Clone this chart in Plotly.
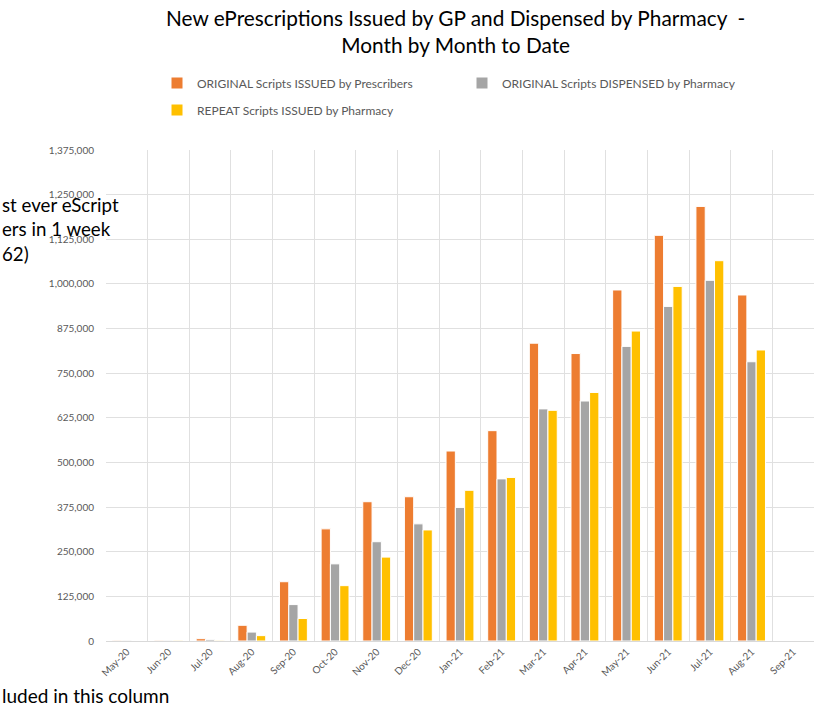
import plotly.graph_objects as go

months = ["May-20", "Jun-20", "Jul-20", "Aug-20", "Sep-20", "Oct-20", "Nov-20", "Dec-20",
          "Jan-21", "Feb-21", "Mar-21", "Apr-21", "May-21", "Jun-21", "Jul-21", "Aug-21", "Sep-21"]

original_issued = [2000, 2000, 6500, 44000, 166000, 314000, 390000, 404000,
                   532000, 589000, 834000, 805000, 983000, 1136000, 1217000, 969000, None]
original_dispensed = [2000, 2000, 4500, 25000, 102000, 216000, 278000, 328000,
                      374000, 454000, 650000, 672000, 825000, 937000, 1010000, 782000, None]
repeat_issued = [0, 2000, 2000, 15000, 63000, 155000, 235000, 311000,
                 422000, 458000, 646000, 696000, 868000, 993000, 1065000, 815000, None]

series_names = ["ORIGINAL Scripts ISSUED by Prescribers",
                "ORIGINAL Scripts DISPENSED by Pharmacy",
                "REPEAT Scripts ISSUED by Pharmacy"]
colors = ["#ED7D31", "#A5A5A5", "#FFC000"]

y_ticks = list(range(0, 1375001, 125000))
y_tick_labels = [f"{v:,}" for v in y_ticks]

title_text = "New ePrescriptions Issued by GP and Dispensed by Pharmacy  -<br>Month by Month to Date"
side_note = "st ever eScript<br>ers in 1 week<br>62)"
bottom_note = "luded in this column"

FONT = "Lato"

fig = go.Figure()
for name, vals, col, lg in zip(series_names,
                               [original_issued, original_dispensed, repeat_issued],
                               colors, ["legend", "legend", "legend2"]):
    fig.add_trace(go.Bar(x=months, y=vals, name=name, legend=lg,
                         marker=dict(color=col, line=dict(color="white", width=1))))

W, H = 816, 704
L, R, T, B = 106, 2, 150, 63
PW = W - L - R
PH = H - T - B

fig.update_layout(
    width=W, height=H,
    margin=dict(l=L, r=R, t=T, b=B),
    paper_bgcolor="white", plot_bgcolor="white",
    font=dict(family=FONT, color="#595959"),
    barmode="group", bargap=0.33, bargroupgap=0.0,
    legend=dict(orientation="h", x=(157 - L) / PW, xanchor="left",
                y=(641 - 83) / PH, yanchor="middle",
                entrywidth=260, entrywidthmode="pixels",
                font=dict(size=12, color="#595959"), bgcolor="rgba(0,0,0,0)"),
    legend2=dict(orientation="h", x=(157 - L) / PW, xanchor="left",
                 y=(641 - 110) / PH, yanchor="middle",
                 font=dict(size=12, color="#595959"), bgcolor="rgba(0,0,0,0)"),
    showlegend=True,
)

fig.update_xaxes(type="category", tickson="boundaries", showgrid=True, gridcolor="#E0E0E0",
                 gridwidth=1, ticks="", tickangle=-45, tickfont=dict(size=10, color="#595959"),
                 showline=True, linecolor="#D9D9D9", linewidth=1, automargin=False)
fig.update_yaxes(range=[0, 1375000], tickvals=y_ticks, ticktext=y_tick_labels,
                 showgrid=True, gridcolor="#E0E0E0", gridwidth=1, zeroline=False,
                 ticks="", ticklen=0, tickfont=dict(size=10, color="#595959"),
                 ticklabelstandoff=11, showline=False, automargin=False)

fig.add_annotation(text=title_text, xref="paper", yref="paper",
                   x=(455 - L) / PW, y=(641 - 3) / PH,
                   xanchor="center", yanchor="top", align="center", showarrow=False,
                   font=dict(size=20.8, color="#000000", family=FONT))
fig.add_annotation(text=side_note, xref="paper", yref="paper", x=-L / PW,
                   y=(641 - 192) / PH,
                   xanchor="left", yanchor="top", align="left", showarrow=False,
                   font=dict(size=18.7, color="#000000", family=FONT))
fig.add_annotation(text=bottom_note, xref="paper", yref="paper", x=-L / PW,
                   y=-(682 - 641) / PH,
                   xanchor="left", yanchor="top", align="left", showarrow=False,
                   font=dict(size=19, color="#000000", family=FONT))

fig.write_html("out.html", config={"displayModeBar": False},
               post_script="document.body.style.margin='0px';")
